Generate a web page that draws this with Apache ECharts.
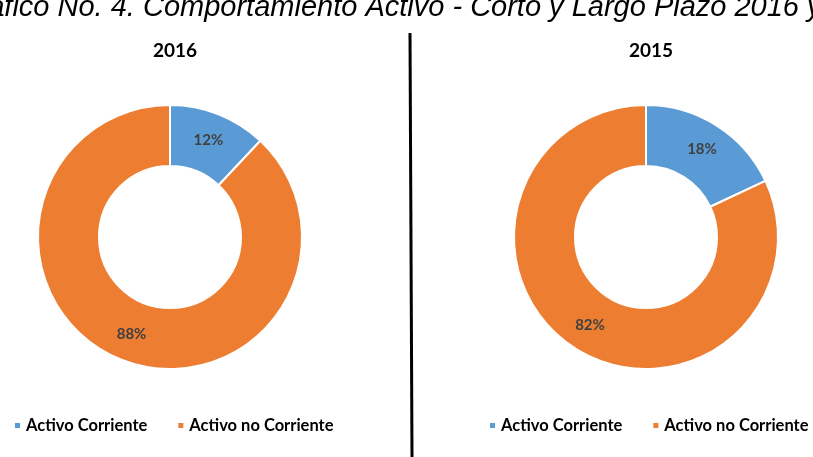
<!DOCTYPE html>
<html>
<head>
<meta charset="utf-8">
<script src="https://cdn.jsdelivr.net/npm/echarts@6/dist/echarts.min.js"></script>
<style>
  html, body { margin: 0; padding: 0; background: #fff; }
  #chart { width: 813px; height: 457px; }
</style>
</head>
<body>
<div id="chart"></div>
<script>
'use strict';
// datos de la gráfica
const categories = ['Activo Corriente', 'Activo no Corriente'];
const years = ['2016', '2015'];
const values2016 = [12, 88];
const values2015 = [18, 82];
const colors = ['#5B9BD5', '#ED7D31'];

const labelFont = 'Lato, "Open Sans", sans-serif';

function pieSeries(name, values, cx) {
  return {
    name: name,
    type: 'pie',
    center: [cx, 237],
    radius: [71, 132],
    startAngle: 90,
    clockwise: true,
    avoidLabelOverlap: false,
    silent: true,
    itemStyle: { borderColor: '#fff', borderWidth: 2 },
    label: {
      show: true,
      position: 'inside',
      formatter: '{d}%',
      color: '#404040',
      fontFamily: labelFont,
      fontWeight: 'bold',
      fontSize: 15
    },
    labelLine: { show: false },
    data: categories.map((c, i) => ({ name: c, value: values[i] }))
  };
}

function legend(left) {
  return {
    data: categories,
    left: left,
    top: 417,
    width: 400,
    padding: 0,
    orient: 'horizontal',
    itemWidth: 7,
    itemHeight: 7,
    itemGap: 29,
    icon: 'rect',
    selectedMode: false,
    textStyle: {
      color: '#000',
      fontFamily: labelFont,
      fontWeight: 'bold',
      fontSize: 16.5
    }
  };
}

function yearTitle(text, cx) {
  return {
    text: text, left: cx, top: 36, textAlign: 'center',
    textStyle: { fontFamily: labelFont, fontWeight: 'bold', fontSize: 19, color: '#000' }
  };
}

let chart = echarts.init(document.getElementById('chart'));
chart.setOption({
  animation: false,
  color: colors,
  title: [yearTitle(years[0], 170), yearTitle(years[1], 646)],
  legend: [legend(13), legend(488)],
  graphic: [
    {
      type: 'text',
      left: -44,
      top: -7,
      style: {
        text: 'Gráfico No. 4. Comportamiento Activo - Corto y Largo Plazo 2016 y 2015',
        font: 'italic 29px "Liberation Sans", Arial, sans-serif',
        fill: '#000'
      }
    },
    {
      type: 'line',
      shape: { x1: 410, y1: 33, x2: 412, y2: 457 },
      style: { stroke: '#000', lineWidth: 3 }
    }
  ],
  series: [
    pieSeries(years[0], values2016, 170),
    pieSeries(years[1], values2015, 646)
  ]
});
</script>
</body>
</html>
